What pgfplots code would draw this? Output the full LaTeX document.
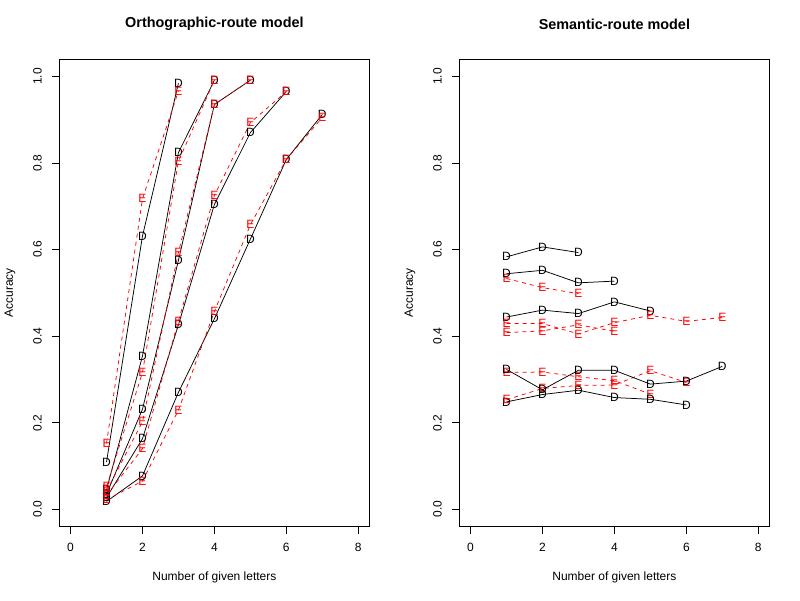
\documentclass[border=0pt]{standalone}
\usepackage{fontspec}
\setmainfont{Liberation Sans}
\usepackage{pgfplots}
\pgfplotsset{compat=1.18}

\pgfplotsset{
  rpanel/.style={
    scale only axis, width=310.72pt, height=467.52pt,
    xmin=-0.32, xmax=8.32, ymin=-0.04, ymax=1.04,
    xtick={0,2,4,6,8}, xticklabels={0,2,4,6,8},
    ytick={0,0.2,0.4,0.6,0.8,1.0},
    yticklabels={0.0,0.2,0.4,0.6,0.8,1.0},
    /pgf/number format/assume math mode=true,
    tick align=outside, tick pos=left,
    major tick length=7.2pt,
    tick style={black, line width=0.75pt},
    axis line style={black, line width=0.8pt},
    ticklabel style={font=\fontsize{12}{14}\selectfont},
    xticklabel style={anchor=north, inner ysep=9pt},
    yticklabel style={rotate=90, anchor=south, inner ysep=10pt},
    label style={font=\fontsize{12}{14}\selectfont},
    xlabel style={at={(axis description cs:0.5,-0.1078)}, anchor=center},
    ylabel style={at={(axis description cs:-0.1577,0.5)}, anchor=center},
    title style={at={(axis description cs:0.5,1.062)}, anchor=center,
      font=\bfseries\fontsize{14.4}{17}\selectfont},
    xlabel={Number of given letters}, ylabel={Accuracy},
    clip=false,
  },
  dser/.style={black, solid, line width=0.75pt, mark=text, text mark={D},
    text mark as node=true, mark options={solid, black},
    text mark style={anchor=center, inner sep=0pt, font=\fontsize{12}{14}\selectfont}},
  eser/.style={red, dash pattern=on 4pt off 4pt, line width=0.75pt, mark=text, text mark={E},
    text mark as node=true, mark options={solid, red},
    text mark style={anchor=center, inner sep=0pt, font=\fontsize{12}{14}\selectfont}},
}

\begin{document}
\begin{tikzpicture}
\path[use as bounding box] (0,0) rectangle (800pt,600pt);

\begin{axis}[rpanel, at={(59.04pt,73.44pt)}, anchor=south west,
  title={Orthographic-route model}]
% length 3
\addplot[dser] coordinates {(1,0.109) (2,0.631) (3,0.984)};
\addplot[eser] coordinates {(1,0.152) (2,0.717) (3,0.966)};
% length 4
\addplot[dser] coordinates {(1,0.045) (2,0.354) (3,0.824) (4,0.991)};
\addplot[eser] coordinates {(1,0.052) (2,0.316) (3,0.804) (4,0.991)};
% length 5
\addplot[dser] coordinates {(1,0.035) (2,0.231) (3,0.575) (4,0.935) (5,0.991)};
\addplot[eser] coordinates {(1,0.042) (2,0.202) (3,0.593) (4,0.935) (5,0.991)};
% length 6
\addplot[dser] coordinates {(1,0.027) (2,0.163) (3,0.426) (4,0.704) (5,0.870) (6,0.965)};
\addplot[eser] coordinates {(1,0.032) (2,0.140) (3,0.435) (4,0.725) (5,0.893) (6,0.965)};
% length 7
\addplot[dser] coordinates {(1,0.018) (2,0.077) (3,0.270) (4,0.440) (5,0.624) (6,0.808) (7,0.912)};
\addplot[eser] coordinates {(1,0.022) (2,0.065) (3,0.229) (4,0.457) (5,0.657) (6,0.808) (7,0.905)};
\end{axis}

\begin{axis}[rpanel, at={(459.04pt,73.44pt)}, anchor=south west,
  title={Semantic-route model}]
% length 3
\addplot[dser] coordinates {(1,0.583) (2,0.606) (3,0.593)};
\addplot[eser] coordinates {(1,0.533) (2,0.512) (3,0.498)};
% length 4
\addplot[dser] coordinates {(1,0.544) (2,0.552) (3,0.523) (4,0.527)};
\addplot[eser] coordinates {(1,0.408) (2,0.412) (3,0.426) (4,0.411)};
% length 5
\addplot[dser] coordinates {(1,0.444) (2,0.460) (3,0.452) (4,0.479) (5,0.458)};
\addplot[eser] coordinates {(1,0.316) (2,0.317) (3,0.306) (4,0.297) (5,0.266)};
% length 6
\addplot[dser] coordinates {(1,0.248) (2,0.265) (3,0.275) (4,0.258) (5,0.254) (6,0.241)};
\addplot[eser] coordinates {(1,0.253) (2,0.279) (3,0.286) (4,0.287) (5,0.320) (6,0.293)};
% length 7
\addplot[dser] coordinates {(1,0.323) (2,0.276) (3,0.321) (4,0.321) (5,0.289) (6,0.296) (7,0.330)};
\addplot[eser] coordinates {(1,0.429) (2,0.429) (3,0.405) (4,0.431) (5,0.448) (6,0.434) (7,0.443)};
\end{axis}
\end{tikzpicture}
\end{document}
